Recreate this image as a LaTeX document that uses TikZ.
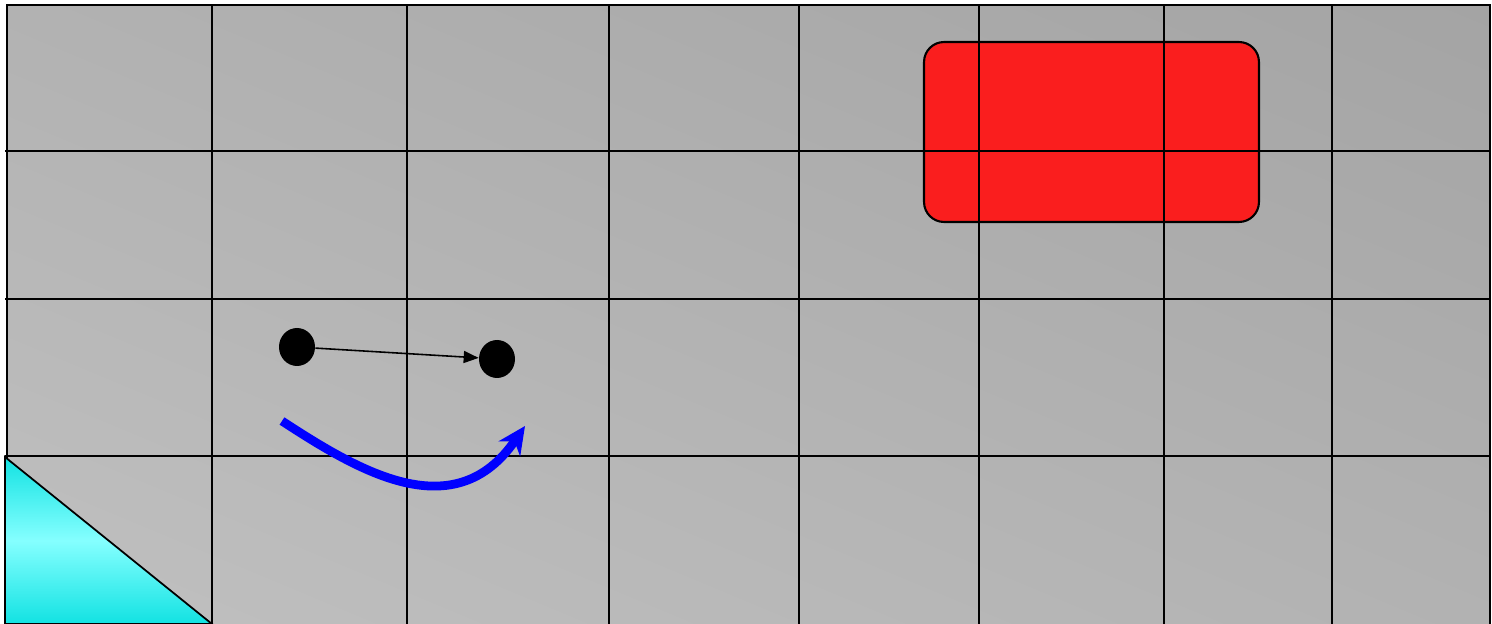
\documentclass[tikz,border=0pt]{standalone}
\usetikzlibrary{arrows.meta,shapes.geometric,shadings}
\definecolor{bgdark}{HTML}{A4A4A4}
\definecolor{bglight}{HTML}{C0C0C0}
\definecolor{bgmid}{HTML}{B2B2B2}
\definecolor{zonered}{HTML}{FA1E1E}
\definecolor{wedgecyan}{HTML}{12E2E2}
\definecolor{wedgelight}{HTML}{85FFFF}

\begin{document}
\begin{tikzpicture}[
    x=0.02cm, y=-0.02cm,
    gridline/.style={line width=1.25pt, black},
    dot/.style={ellipse, fill=black, minimum width=0.72cm, minimum height=0.76cm, inner sep=0pt},
    zone/.style={draw=black, line width=1.2pt, fill=zonered, rounded corners=0.4cm, minimum width=6.7cm, minimum height=3.6cm},
    link/.style={-{Triangle[length=0.3cm,width=0.24cm]}, line width=0.9pt},
    sweep/.style={-{Stealth[length=0.55cm,width=0.52cm]}, line width=5pt, blue}
]
\useasboundingbox (0,0) rectangle (1492,624);
\shade[upper left=bgmid, upper right=bgdark, lower left=bglight, lower right=bgmid] (7,5) rectangle (1490,624);

\node[zone] (target) at (1091.5,132) {};

% grid
\foreach \gx in {212,407,609,799,979,1164,1332}
  \draw[gridline] (\gx,5) -- (\gx,624);
\foreach \gy in {151,299,456}
  \draw[gridline] (5,\gy) -- (1490,\gy);
\draw[gridline] (7,624) -- (7,5) -- (1490,5) -- (1490,624);

\shade[top color=wedgecyan, bottom color=wedgecyan, middle color=wedgelight, draw=black, line width=1pt]
  (5,457) -- (212,624) -- (5,624) -- cycle;

\node[dot] (start) at (297,347) {};
\node[dot] (goal) at (497,359) {};
\draw[link] (start) -- (goal);

\coordinate (swfrom) at (282,421);
\coordinate (swto) at (525,426);
\draw[sweep] (swfrom) .. controls (360,472) and (455,528) .. (swto);
\end{tikzpicture}
\end{document}
